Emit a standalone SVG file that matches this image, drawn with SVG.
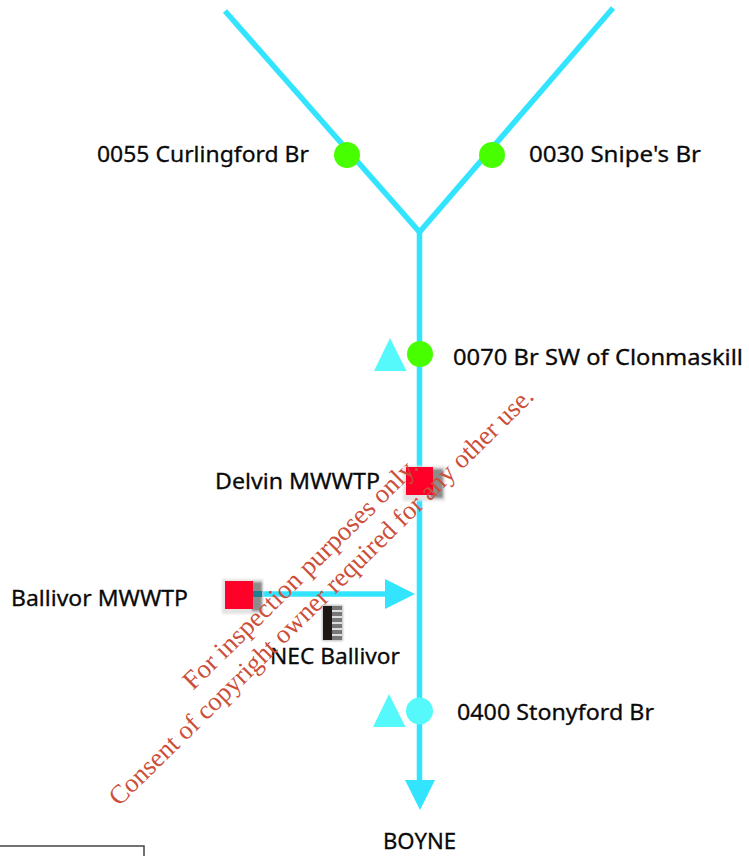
<svg xmlns="http://www.w3.org/2000/svg" width="749" height="856" viewBox="0 0 749 856">
<style>
.l{font-family:"Noto Sans","Liberation Sans",sans-serif;font-size:22.500px;fill:#0a0a0a;stroke:#0a0a0a;stroke-width:.3px}
.w{font-family:"Liberation Serif",serif;font-size:26.500px;fill:#cb4f3a}
.r{fill:none;stroke:#33e4ff;stroke-width:5.500}
.a{fill:#33e4ff}
.g{fill:#48ff00}
.t{fill:#55f9fc}
.s{fill:#ff0029}
.h{fill:#8c8c8c}
.f{fill:#e4e4e4}
</style>
<defs><filter id="b" x="-20%" y="-20%" width="140%" height="140%"><feGaussianBlur stdDeviation="1"/></filter></defs>
<g id="connectors">
<path class="r" d="M225 11 419.500 232 613 8"/>
<path class="r" d="M419.500 232V782"/>
<path class="a" d="M405 780H435L420 810Z"/>
<path class="r" d="M255 594H386"/>
<path class="a" d="M385 579 415 594 385 609Z"/>
</g>
<g id="n0055"><circle class="g" cx="347" cy="155" r="13"/><text class="l" x="97" y="162" textLength="212" lengthAdjust="spacingAndGlyphs">0055 Curlingford Br</text></g>
<g id="n0030"><circle class="g" cx="492" cy="155" r="13"/><text class="l" x="529" y="162" textLength="172" lengthAdjust="spacingAndGlyphs">0030 Snipe's Br</text></g>
<g id="n0070"><path class="t" d="M390 338 406.500 371H374Z"/><circle class="g" cx="420" cy="354" r="13"/><text class="l" x="453" y="365" textLength="290" lengthAdjust="spacingAndGlyphs">0070 Br SW of Clonmaskill</text></g>
<g id="delvin">
<rect class="f" x="403" y="466" width="42" height="35" filter="url(#b)"/>
<rect class="h" x="430" y="469" width="13" height="29" filter="url(#b)"/>
<rect class="s" x="406" y="467" width="27" height="28"/>
<text class="l" x="215" y="489" textLength="165" lengthAdjust="spacingAndGlyphs">Delvin MWWTP</text></g>
<g id="ballivor">
<rect class="f" x="222" y="579" width="41" height="35" filter="url(#b)"/>
<rect class="h" x="252" y="582" width="10" height="29" filter="url(#b)"/>
<rect x="253" y="591" width="9" height="6" fill="#1b7f93"/>
<rect class="s" x="225" y="581" width="28" height="28"/>
<text class="l" x="11" y="606" textLength="177" lengthAdjust="spacingAndGlyphs">Ballivor MWWTP</text></g>
<g id="nec">
<rect x="322" y="605" width="21" height="36" fill="#bbb" filter="url(#b)"/>
<rect x="323" y="606" width="9" height="34" fill="#1c1714"/>
<rect x="332" y="606" width="10" height="34" fill="#777"/>
<path d="M332 611h10M332 617h10M332 623h10M332 629h10M332 635h10" stroke="#ddd" stroke-width="2"/>
<text class="l" x="270" y="664" textLength="130" lengthAdjust="spacingAndGlyphs">NEC Ballivor</text></g>
<g id="n0400"><path class="t" d="M389 694 405.500 727H373Z"/><circle class="t" cx="419.500" cy="711" r="13.500"/><text class="l" x="457" y="720" textLength="197" lengthAdjust="spacingAndGlyphs">0400 Stonyford Br</text></g>
<g id="boyne"><text class="l" x="383" y="849" textLength="73" lengthAdjust="spacingAndGlyphs">BOYNE</text></g>
<path d="M0 846H144V856" fill="none" stroke="#444" stroke-width="1.500"/>
<g id="watermark">
<text class="w" transform="translate(193 691) rotate(-44.500)" textLength="318" lengthAdjust="spacingAndGlyphs">For inspection purposes only.</text>
<text class="w" transform="translate(119 807) rotate(-44.500)">Consent of copyright owner required for any other use.</text>
</g>
</svg>
